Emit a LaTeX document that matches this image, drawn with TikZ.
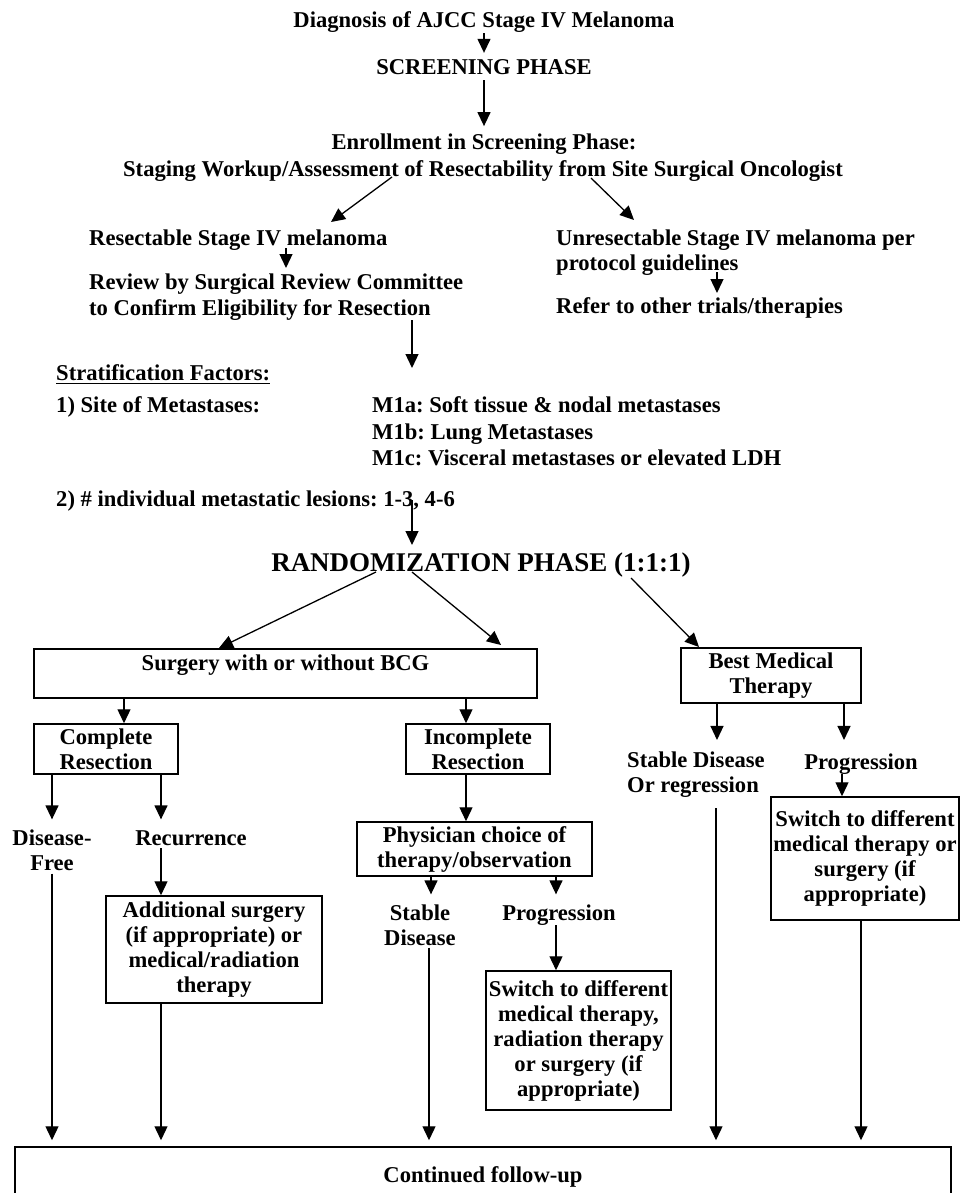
\documentclass[tikz,border=0pt]{standalone}
\usepackage{fontspec}
\setmainfont{Liberation Serif}
\usetikzlibrary{arrows.meta,calc}
\begin{document}
\frenchspacing
\begin{tikzpicture}[x=1pt,y=-1pt,
  every node/.style={inner sep=0pt, font=\bfseries\fontsize{22.6}{25}\selectfont},
  box/.style={draw, line width=1.5pt, align=center},
  arr/.style={line width=1.3pt, -{Triangle[length=14pt,width=13pt]}},
  rule/.style={line width=1.6pt}]
\useasboundingbox (0,0) rectangle (961,1193);

% ---- text nodes (top part)
\node[anchor=base] (title) at (484,28) {Diagnosis of AJCC Stage IV Melanoma};
\node[anchor=base] (screen) at (484,75) {SCREENING PHASE};
\node[anchor=base] (enroll) at (484,150) {Enrollment in Screening Phase:};
\node[anchor=base] (staging) at (483,177) {Staging Workup/Assessment of Resectability from Site Surgical Oncologist};
\node[anchor=base west] (resect) at (89,245) {Resectable Stage IV melanoma};
\node[anchor=base west] (unres) at (556,245) {Unresectable Stage IV melanoma per};
\node[anchor=base west] (proto) at (556,270) {protocol guidelines};
\node[anchor=base west] (refer) at (556,313) {Refer to other trials/therapies};
\node[anchor=base west] (review) at (89,289) {Review by Surgical Review Committee};
\node[anchor=base west] (confirm) at (89,315) {to Confirm Eligibility for Resection};
\node[anchor=base west] (strat) at (56,380) {Stratification Factors:};
\node[anchor=base west] (site) at (56,412) {1) Site of Metastases:};
\node[anchor=base west] (m1a) at (372,412) {M1a: Soft tissue \& nodal metastases};
\node[anchor=base west] (m1b) at (372,439) {M1b: Lung Metastases};
\node[anchor=base west] (m1c) at (372,465) {M1c: Visceral metastases or elevated LDH};
\node[anchor=base west] (lesions) at (56,506) {2) \# individual metastatic lesions: 1-3, 4-6};
\node[anchor=base, font=\bfseries\fontsize{27}{30}\selectfont] (rand) at (481,571) {RANDOMIZATION PHASE (1:1:1)};

% ---- boxes
\node[box, minimum width=503pt, minimum height=49pt, text height=15pt, text depth=21pt] (surg) at (285.5,673.5) {Surgery with or without BCG};
\node[box, minimum width=180pt, minimum height=55pt] (best) at (771,675.5) {Best Medical\\Therapy};
\node[box, minimum width=144pt, minimum height=50pt] (cres) at (106,749) {Complete\\Resection};
\node[box, minimum width=144pt, minimum height=50pt] (ires) at (478,749) {Incomplete\\Resection};
\node[box, minimum width=235pt, minimum height=54pt] (phys) at (474.5,849) {Physician choice of\\therapy/observation};
\node[box, minimum width=216pt, minimum height=107pt] (add) at (214,949.5) {Additional surgery\\(if appropriate) or\\medical/radiation\\therapy};
\node[box, minimum width=185pt, minimum height=139pt] (msw) at (578.5,1040.5) {Switch to different\\medical therapy,\\radiation therapy\\or surgery (if\\appropriate)};
\node[box, minimum width=188pt, minimum height=123pt] (rsw) at (865,858.5) {Switch to different\\medical therapy or\\surgery (if\\appropriate)};
\node[box, minimum width=936pt, minimum height=60pt] (follow) at (483,1177) {Continued follow-up};

% ---- free text (outcomes)
\node[align=center] (dfree) at (52,850) {Disease-\\Free};
\node[anchor=base] (recur) at (191,845) {Recurrence};
\node[align=center] (stabmid) at (420,925) {Stable\\Disease};
\node[anchor=base] (progmid) at (559,920) {Progression};
\node[align=left, anchor=west] (stabr) at (627,775) {Stable Disease\\Or regression};
\node[anchor=base] (progr) at (861,769) {Progression};

% ---- underline of the stratification heading
\draw[rule] ([yshift=-3pt]strat.south west) -- ([yshift=-3pt]strat.south east);

% ---- helper coordinates
\coordinate (t3) at (392,177); \coordinate (h3) at (331,222);
\coordinate (t4) at (591,178); \coordinate (h4) at (634,220);
\coordinate (t5) at (286,248); \coordinate (h5) at (286,268);
\coordinate (t6) at (717,272); \coordinate (h6) at (717,293);
\coordinate (t7) at (412,320); \coordinate (h7) at (412,368);
\coordinate (t8) at (412,500); \coordinate (h8) at (412,545);
\coordinate (t9) at (376,572); \coordinate (h9) at (219,648);
\coordinate (t10) at (412,572); \coordinate (h10) at (501,645);
\coordinate (t11) at (631,578); \coordinate (h11) at (699,647);
\coordinate (x161) at (161,0);
\coordinate (x429) at (429,0);
\coordinate (x431) at (431,0);
\coordinate (x556) at (556,0);
\coordinate (x716) at (716,0);
\coordinate (x842) at (842,0);
\coordinate (x861) at (861,0);

% ---- connectors (top)
\draw[arr] (title.south) -- ([yshift=7pt]screen.north);
\draw[arr] ([yshift=-5pt]screen.south) -- ([yshift=8pt]enroll.north);
\draw[arr] (t3) -- (h3);
\draw[arr] (t4) -- (h4);
\draw[arr] (t5) -- (h5);
\draw[arr] (t6) -- (h6);
\draw[arr] (t7) -- (h7);
\draw[arr] (t8) -- (h8);
\draw[arr] (t9) -- (h9);
\draw[arr] (t10) -- (h10);
\draw[arr] (t11) -- (h11);

% ---- connectors (boxes)
\draw[arr] ([xshift=18pt]cres.north |- surg.south) -- ([xshift=18pt]cres.north);
\draw[arr] ([xshift=-12pt]ires.north |- surg.south) -- ([xshift=-12pt]ires.north);
\draw[arr] ([xshift=-54pt]best.south) -- ([xshift=-54pt,yshift=12pt]best.south |- stabr.north);
\draw[arr] ([xshift=73pt]best.south) -- ([xshift=73pt,yshift=12pt]best.south |- stabr.north);
\draw[arr] (cres.south -| dfree) -- ([yshift=10pt]dfree.north);
\draw[arr] (cres.south -| x161) -- ([yshift=10pt]dfree.north -| x161);
\draw[arr] ([xshift=-12pt]ires.south) -- ([xshift=-12pt]ires.south |- phys.north);
\draw[arr] ([yshift=-3pt]recur.south -| x161) -- (add.north -| x161);
\draw[arr] (phys.south -| x431) -- ([yshift=10pt]stabmid.north -| x431);
\draw[arr] (phys.south -| x556) -- ([yshift=10pt]stabmid.north -| x556);
\draw[arr] (progmid.south -| x556) -- (msw.north -| x556);
\draw[arr] (progr.south -| x842) -- (rsw.north -| x842);

% ---- connectors into the follow-up box
\draw[arr] ([yshift=-3pt]dfree.south) -- ([yshift=6pt]follow.north -| dfree);
\draw[arr] (add.south -| x161) -- ([yshift=6pt]follow.north -| x161);
\draw[arr] ([yshift=-2pt]stabmid.south -| x429) -- ([yshift=6pt]follow.north -| x429);
\draw[arr] ([yshift=-10pt]stabr.south -| x716) -- ([yshift=6pt]follow.north -| x716);
\draw[arr] (rsw.south -| x861) -- ([yshift=6pt]follow.north -| x861);
\end{tikzpicture}
\end{document}
